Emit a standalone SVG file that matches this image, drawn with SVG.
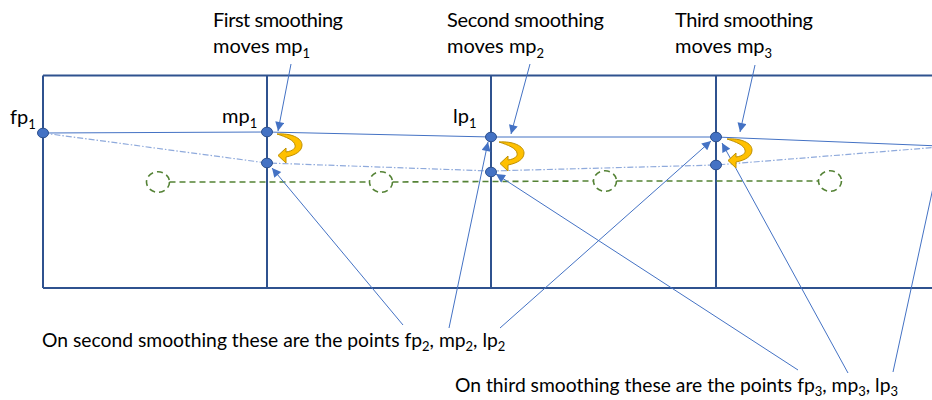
<svg xmlns="http://www.w3.org/2000/svg" width="932" height="400" viewBox="0 0 932 400">
<style>
  .txt { font-family: Lato, "Liberation Sans", sans-serif; font-size: 20px; fill: #000; }
  .small { font-size: 19.3px; }
  .sub { font-size: 13px; }
  .grid { fill: none; stroke: #2F528F; stroke-width: 2; }
  .pt { fill: #4472C4; stroke: #2F528F; stroke-width: 1; }
  .solid { fill: none; stroke: #4472C4; stroke-width: 1; }
  .dashdot { fill: none; stroke: #8FAADC; stroke-width: 1.2; stroke-dasharray: 6 2 1.5 2; }
  .green { fill: none; stroke: #548235; stroke-width: 1.6; stroke-dasharray: 6 4; }
  .ann { fill: none; stroke: #4472C4; stroke-width: 1; marker-end: url(#ah); }
  .curl { fill: #FFC000; stroke: #BF9000; stroke-width: 1; }
</style>
<defs>
  <marker id="ah" viewBox="0 0 10 10" refX="10" refY="5" markerWidth="11" markerHeight="9" markerUnits="userSpaceOnUse" orient="auto">
    <path d="M0,0 L10,5 L0,10 Z" fill="#4472C4"/>
  </marker>
  <path id="curl" d="M0,0 C14,-1 25,4 25,11 C25,17 19,21 9,23 L9,29 L1,21.5 L9,14 L9,18 C16,17 19,14 18,11 C17,6 9,3 0,0 Z"/>
</defs>
<rect width="932" height="400" fill="#fff"/>

<g id="grid">
  <path class="grid" d="M43,75.5 H940 M43,288 H940 M43,75.5 V288 M267,75.5 V288 M491,75.5 V288 M716,75.5 V288"/>
</g>

<g id="connectors">
  <path class="solid" d="M43,133 L267,132 L491,137 L716,137 L940,146"/>
  <path class="dashdot" d="M43,133 L267,163 L491,171 L716,165 L940,147"/>
  <path class="green" d="M169.5,182 L369.5,182 M392.5,182 L593.5,181 M616.5,181 L818.5,181"/>
  <path class="ann" d="M291,64 L278,131"/>
  <path class="ann" d="M530,64 L511,134"/>
  <path class="ann" d="M755,65 L740,132"/>
  <path class="ann" d="M403,325 L272,168"/>
  <path class="ann" d="M449,328 L488,142"/>
  <path class="ann" d="M500,328 L711,141"/>
  <path class="ann" d="M798,370 L496,174"/>
  <path class="ann" d="M848,373 L722,143"/>
  <path class="ann" d="M893,372 L946,128"/>
</g>

<g id="ghost-points">
  <ellipse class="green" cx="158" cy="182" rx="11.5" ry="10.3"/>
  <ellipse class="green" cx="381" cy="182" rx="11.5" ry="10.3"/>
  <ellipse class="green" cx="605" cy="181" rx="11.5" ry="10.3"/>
  <ellipse class="green" cx="830" cy="181" rx="11.5" ry="10.3"/>
</g>

<g id="fp1"><ellipse class="pt" cx="43" cy="133" rx="5.5" ry="4.8"/>
  <text class="txt" x="10" y="124">fp<tspan class="sub" dy="5">1</tspan></text></g>
<g id="mp1"><ellipse class="pt" cx="267" cy="132" rx="5.5" ry="4.8"/>
  <text class="txt" x="222" y="123">mp<tspan class="sub" dy="5">1</tspan></text></g>
<g id="mp1-moved"><ellipse class="pt" cx="267" cy="163" rx="5.5" ry="4.8"/></g>
<g id="lp1"><ellipse class="pt" cx="491" cy="137" rx="5.5" ry="4.8"/>
  <text class="txt" x="453" y="123">lp<tspan class="sub" dy="5">1</tspan></text></g>
<g id="lp1-moved"><ellipse class="pt" cx="491" cy="172" rx="5.5" ry="4.8"/></g>
<g id="p3"><ellipse class="pt" cx="716" cy="137" rx="5.5" ry="4.8"/></g>
<g id="p3-moved"><ellipse class="pt" cx="716" cy="165" rx="5.5" ry="4.8"/></g>

<g id="curls">
  <use href="#curl" class="curl" x="277" y="134"/>
  <use href="#curl" class="curl" x="499" y="142"/>
  <use href="#curl" class="curl" x="727" y="139"/>
</g>

<g id="label-first">
  <text class="txt" x="213" y="27" textLength="130">First smoothing</text>
  <text class="txt" x="213" y="53">moves mp<tspan class="sub" dy="5">1</tspan></text>
</g>
<g id="label-second">
  <text class="txt" x="447" y="27" textLength="157">Second smoothing</text>
  <text class="txt" x="447" y="53">moves mp<tspan class="sub" dy="5">2</tspan></text>
</g>
<g id="label-third">
  <text class="txt" x="675" y="27" textLength="138">Third smoothing</text>
  <text class="txt" x="675" y="53">moves mp<tspan class="sub" dy="5">3</tspan></text>
</g>
<g id="label-bottom-second">
  <text class="txt small" x="42" y="347">On second smoothing these are the points fp<tspan class="sub" dy="4">2</tspan><tspan dy="-4">, mp</tspan><tspan class="sub" dy="4">2</tspan><tspan dy="-4">, lp</tspan><tspan class="sub" dy="4">2</tspan></text>
</g>
<g id="label-bottom-third">
  <text class="txt small" x="455" y="392">On third smoothing these are the points fp<tspan class="sub" dy="4">3</tspan><tspan dy="-4">, mp</tspan><tspan class="sub" dy="4">3</tspan><tspan dy="-4">, lp</tspan><tspan class="sub" dy="4">3</tspan></text>
</g>
</svg>
